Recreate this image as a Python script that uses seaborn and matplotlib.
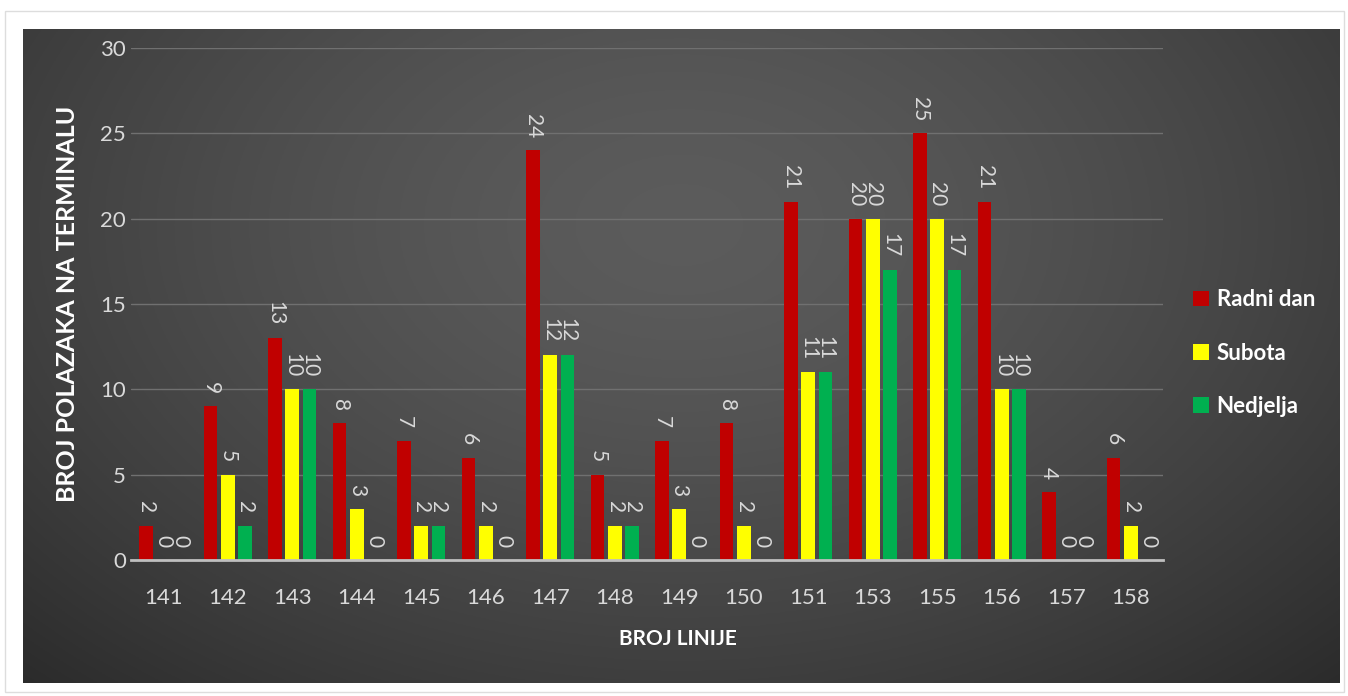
import numpy as np
import pandas as pd
import matplotlib
matplotlib.use('Agg')
import matplotlib.pyplot as plt
import seaborn as sns
from matplotlib.patches import Rectangle

linije = ['141', '142', '143', '144', '145', '146', '147', '148', '149', '150',
          '151', '153', '155', '156', '157', '158']
radni_dan = [2, 9, 13, 8, 7, 6, 24, 5, 7, 8, 21, 20, 25, 21, 4, 6]
subota = [0, 5, 10, 3, 2, 2, 12, 2, 3, 2, 11, 20, 20, 10, 0, 2]
nedjelja = [0, 2, 10, 0, 2, 0, 12, 2, 0, 0, 11, 17, 17, 10, 0, 0]
serije = ['Radni dan', 'Subota', 'Nedjelja']
boje = ['#C00000', '#FFFF00', '#00B050']

df = pd.DataFrame({
    'linija': linije * 3,
    'polasci': radni_dan + subota + nedjelja,
    'dan': [s for s in serije for _ in linije],
})

sns.set_style('dark')
plt.rcParams['font.family'] = ['Lato', 'DejaVu Sans']
txt = '#D9D9D9'

fig = plt.figure(figsize=(13.48, 6.96), dpi=100)
fig.patch.set_facecolor('white')

# thin outer frame of the screenshot
fig.add_artist(Rectangle((0.004, 0.006), 0.993, 0.978, transform=fig.transFigure,
                         fill=False, edgecolor='#DDDDDD', lw=1))

# dark panel with radial gradient
bg = fig.add_axes([0.017, 0.019, 0.977, 0.940])
yy, xx = np.mgrid[0:1:300j, 0:1:600j]
r = np.sqrt(((xx - 0.5) / 0.75) ** 2 + ((yy - 0.3) / 1.0) ** 2)
g = np.clip(0.36 - 0.20 * r ** 1.5, 0.15, 0.4)
bg.imshow(np.dstack([g, g, g]), aspect='auto', extent=(0, 1, 1, 0))
bg.set_axis_off()

ax = fig.add_axes([0.0972, 0.1954, 0.7656, 0.7356])
ax.set_facecolor('none')
sns.barplot(data=df, x='linija', y='polasci', hue='dan', palette=boje,
            width=0.8, gap=0.2, ax=ax, saturation=1, linewidth=0,
            legend=True)

for c in ax.containers:
    ax.bar_label(c, rotation=270, padding=9, color=txt, fontsize=15)

ax.set_ylim(0, 30)
ax.set_yticks(range(0, 31, 5))
ax.grid(axis='y', color='#707070', lw=1)
ax.grid(axis='x', visible=False)
for s in ['top', 'right', 'left']:
    ax.spines[s].set_visible(False)
ax.spines['bottom'].set_color('#BFBFBF')
ax.spines['bottom'].set_linewidth(2)
ax.tick_params(axis='both', colors=txt, labelsize=16, length=0)
ax.tick_params(axis='x', pad=20)

ax.set_xlabel('BROJ LINIJE', color='white', fontsize=15, fontweight='bold')
ax.xaxis.set_label_coords(0.53, -0.135)
ax.set_ylabel('BROJ POLAZAKA NA TERMINALU', color='white', fontsize=18,
              fontweight='bold')
ax.yaxis.set_label_coords(-0.05, 0.5)

leg = ax.legend(loc='center left', bbox_to_anchor=(1.01, 0.404), frameon=False,
                handlelength=0.7, handleheight=0.7, handletextpad=0.35,
                labelspacing=1.45, title=None,
                prop={'weight': 'bold', 'size': 16})
for t in leg.get_texts():
    t.set_color('white')

fig.savefig('out.png', dpi=100)
plt.close(fig)
